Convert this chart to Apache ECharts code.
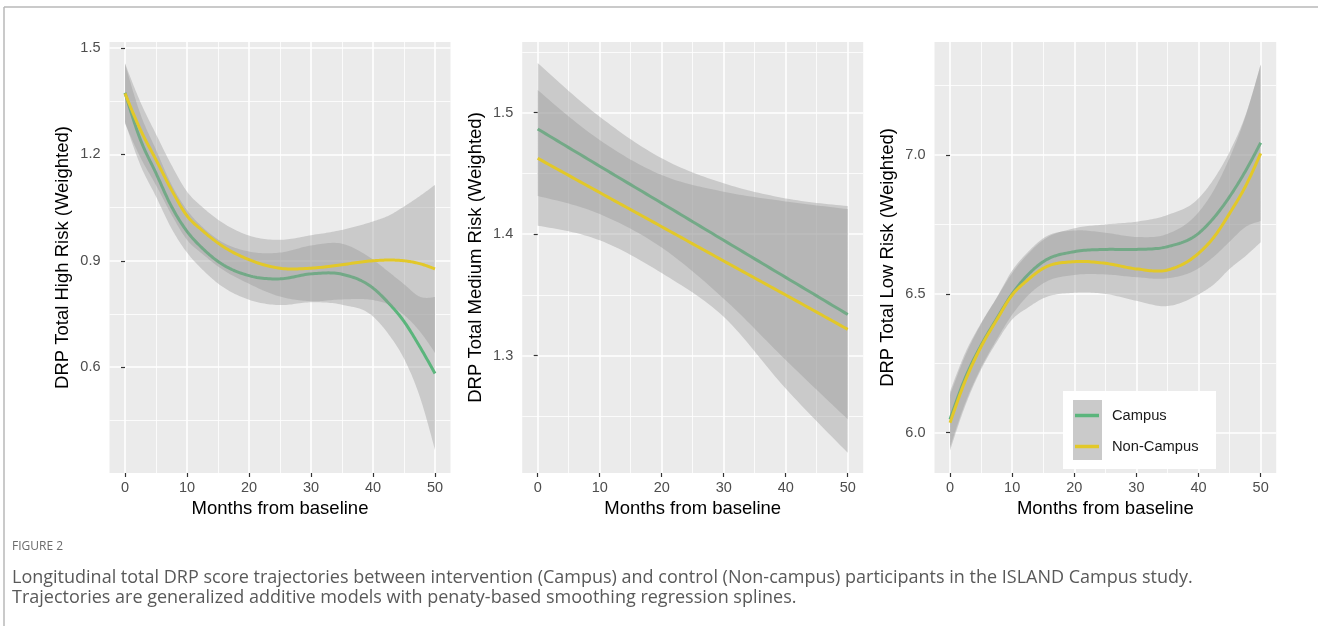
<!DOCTYPE html>
<html><head><meta charset="utf-8">
<script src="https://cdn.jsdelivr.net/npm/echarts@6/dist/echarts.min.js"></script>
<style>html,body{margin:0;padding:0;background:#fff;}#c{width:1318px;height:626px;}</style>
</head><body><div id="c"></div>
<script>
// ---------- data ----------
const seriesNames = ['Campus', 'Non-Campus'];
const xTicks = [0, 10, 20, 30, 40, 50];
const xMinor = [5, 15, 25, 35, 45];

// Panel 1: High risk
const monthsHigh = [0, 2.5, 5, 7.5, 10, 12.5, 15, 20, 25, 30, 35, 40, 42.5, 45, 47.5, 50];
const highCampus    = [1.374, 1.241, 1.147, 1.053, 0.983, 0.935, 0.898, 0.858, 0.849, 0.863, 0.862, 0.823, 0.781, 0.729, 0.659, 0.582];
const highCampusLo  = [1.292, 1.169, 1.081, 0.991, 0.923, 0.875, 0.836, 0.790, 0.775, 0.783, 0.776, 0.743, 0.693, 0.624, 0.519, 0.366];
const highCampusHi  = [1.456, 1.313, 1.213, 1.115, 1.043, 0.995, 0.960, 0.926, 0.923, 0.943, 0.948, 0.903, 0.869, 0.834, 0.799, 0.798];
const highNon       = [1.372, 1.269, 1.185, 1.100, 1.027, 0.985, 0.950, 0.903, 0.879, 0.879, 0.889, 0.900, 0.902, 0.900, 0.892, 0.877];
const highNonLo     = [1.287, 1.191, 1.113, 1.030, 0.959, 0.919, 0.884, 0.835, 0.799, 0.786, 0.791, 0.789, 0.777, 0.747, 0.702, 0.640];
const highNonHi     = [1.457, 1.347, 1.257, 1.170, 1.095, 1.051, 1.016, 0.971, 0.959, 0.972, 0.987, 1.011, 1.027, 1.053, 1.082, 1.114];
const highTicks = [0.6, 0.9, 1.2, 1.5];
const highMinor = [0.45, 0.75, 1.05, 1.35];

// Panel 2: Medium risk
const monthsMed = [0, 10, 20, 30, 40, 50];
const medCampus   = [1.4866, 1.4560, 1.4256, 1.3950, 1.3645, 1.3340];
const medCampusLo = [1.4314, 1.4166, 1.3890, 1.3470, 1.2965, 1.2477];
const medCampusHi = [1.5410, 1.4967, 1.4625, 1.4419, 1.4295, 1.4232];
const medNon      = [1.4625, 1.4343, 1.4062, 1.3780, 1.3500, 1.3217];
const medNonLo    = [1.4070, 1.3950, 1.3680, 1.3320, 1.2730, 1.2202];
const medNonHi    = [1.5187, 1.4775, 1.4487, 1.4350, 1.4270, 1.4207];
const medTicks = [1.3, 1.4, 1.5];
const medMinor = [1.25, 1.35, 1.45, 1.55];

// Panel 3: Low risk
const monthsLow = [0, 2.5, 5, 7.5, 10, 12.5, 15, 20, 25, 30, 35, 40, 42.5, 45, 47.5, 50];
const lowCampus    = [6.048, 6.200, 6.315, 6.410, 6.500, 6.568, 6.616, 6.652, 6.660, 6.660, 6.670, 6.718, 6.775, 6.850, 6.940, 7.044];
const lowCampusLo  = [5.948, 6.110, 6.235, 6.335, 6.425, 6.493, 6.538, 6.568, 6.570, 6.560, 6.556, 6.592, 6.635, 6.688, 6.740, 6.762];
const lowCampusHi  = [6.148, 6.290, 6.395, 6.485, 6.575, 6.643, 6.694, 6.736, 6.750, 6.760, 6.784, 6.844, 6.915, 7.012, 7.140, 7.326];
const lowNon       = [6.036, 6.190, 6.310, 6.406, 6.496, 6.550, 6.592, 6.616, 6.610, 6.590, 6.586, 6.646, 6.705, 6.790, 6.885, 7.006];
const lowNonLo     = [5.936, 6.100, 6.228, 6.326, 6.408, 6.450, 6.484, 6.504, 6.500, 6.475, 6.456, 6.498, 6.535, 6.590, 6.635, 6.686];
const lowNonHi     = [6.136, 6.280, 6.392, 6.486, 6.584, 6.650, 6.700, 6.728, 6.720, 6.705, 6.716, 6.794, 6.875, 6.990, 7.135, 7.326];
const lowTicks = [6.0, 6.5, 7.0];
const lowMinor = [6.25, 6.75, 7.25];

const yTitles = ['DRP Total High Risk (Weighted)', 'DRP Total Medium Risk (Weighted)', 'DRP Total Low Risk (Weighted)'];
const xTitle = 'Months from baseline';
const figLabel = 'FIGURE 2';
const captionLines = [
  'Longitudinal total DRP score trajectories between intervention (Campus) and control (Non-campus) participants in the ISLAND Campus study.',
  'Trajectories are generalized additive models with penaty-based smoothing regression splines.'
];

// ---------- styling / layout ----------
const FF = 'Liberation Sans, Arial, Helvetica, sans-serif';
const CAP_FF = 'Open Sans, Liberation Sans, sans-serif';
const COL_CAMPUS = '#5BB57C';
const COL_NON = '#E2C829';
const RIBBON = 'rgba(153,153,153,0.4)';

const panels = [
  { xs: monthsHigh, c: highCampus, cLo: highCampusLo, cHi: highCampusHi, n: highNon, nLo: highNonLo, nHi: highNonHi,
    ticks: highTicks, minor: highMinor, ymin: 0.3014, ymax: 1.517, left: 109.5, width: 341 },
  { xs: monthsMed, c: medCampus, cLo: medCampusLo, cHi: medCampusHi, n: medNon, nLo: medNonLo, nHi: medNonHi,
    ticks: medTicks, minor: medMinor, ymin: 1.2035, ymax: 1.5582, left: 522.2, width: 341 },
  { xs: monthsLow, c: lowCampus, cLo: lowCampusLo, cHi: lowCampusHi, n: lowNon, nLo: lowNonLo, nHi: lowNonHi,
    ticks: lowTicks, minor: lowMinor, ymin: 5.855, ymax: 7.407, left: 934.5, width: 341.7 }
];

// smooth curve through pixel points (Hermite spline in x), sampled densely
function smoothCurve(P) {
  const n = P.length;
  if (n < 3) return P.slice();
  const h = [], s = [], m = [];
  for (let i = 0; i < n - 1; i++) { h[i] = P[i + 1][0] - P[i][0]; s[i] = (P[i + 1][1] - P[i][1]) / h[i]; }
  for (let i = 1; i < n - 1; i++) m[i] = (s[i - 1] * h[i] + s[i] * h[i - 1]) / (h[i - 1] + h[i]);
  m[0] = (3 * s[0] - m[1]) / 2;
  m[n - 1] = (3 * s[n - 2] - m[n - 2]) / 2;
  const out = [], K = 16;
  for (let i = 0; i < n - 1; i++) {
    for (let k = 0; k < K; k++) {
      const t = k / K, t2 = t * t, t3 = t2 * t;
      const y = (2 * t3 - 3 * t2 + 1) * P[i][1] + (t3 - 2 * t2 + t) * h[i] * m[i]
              + (-2 * t3 + 3 * t2) * P[i + 1][1] + (t3 - t2) * h[i] * m[i + 1];
      out.push([P[i][0] + t * h[i], y]);
    }
  }
  out.push(P[n - 1].slice());
  return out;
}

function renderBand(params, api) {
  if (params.dataIndexInside !== 0) return null;
  const n = params.dataInsideLength;
  const up = [], lo = [];
  for (let i = 0; i < n; i++) {
    const x = api.value(0, i);
    lo.push(api.coord([x, api.value(1, i)]));
    up.push(api.coord([x, api.value(2, i)]));
  }
  const pts = smoothCurve(up).concat(smoothCurve(lo).reverse());
  return { type: 'polygon', silent: true, shape: { points: pts }, style: { fill: RIBBON, stroke: null } };
}
function makeRenderLine(color) {
  return function (params, api) {
    if (params.dataIndexInside !== 0) return null;
    const n = params.dataInsideLength;
    const pts = [];
    for (let i = 0; i < n; i++) pts.push(api.coord([api.value(0, i), api.value(1, i)]));
    return { type: 'polyline', silent: true, shape: { points: smoothCurve(pts) },
      style: { stroke: color, lineWidth: 3, fill: null, lineJoin: 'round', lineCap: 'butt' } };
  };
}

const grids = [], xAxes = [], yAxes = [], series = [];
panels.forEach((p, gi) => {
  grids.push({ left: p.left, top: 42, width: p.width, height: 431, show: true,
    backgroundColor: '#EBEBEB', borderWidth: 0, containLabel: false });
  xAxes.push({ type: 'value', gridIndex: gi, min: -2.5, max: 52.5, position: 'bottom',
    axisLine: { show: false },
    axisTick: { show: true, length: 4, lineStyle: { color: '#333', width: 1.2 }, customValues: xTicks },
    axisLabel: { show: true, customValues: xTicks, margin: 7, color: '#4D4D4D', fontSize: 14.5, fontFamily: FF },
    splitLine: { show: true, lineStyle: { color: '#FFFFFF', width: 1.6 } },
    name: xTitle, nameLocation: 'middle', nameGap: 24,
    nameTextStyle: { color: '#000', fontSize: 18.5, fontFamily: FF } });
  xAxes.push({ type: 'value', gridIndex: gi, min: -2.5, max: 52.5, position: 'top',
    axisLine: { show: false }, axisTick: { show: false, customValues: xMinor },
    axisLabel: { show: false, customValues: xMinor },
    splitLine: { show: true, lineStyle: { color: '#FFFFFF', width: 0.8 } } });
  yAxes.push({ type: 'value', gridIndex: gi, min: p.ymin, max: p.ymax, position: 'left',
    axisLine: { show: false },
    axisTick: { show: true, length: 4, lineStyle: { color: '#333', width: 1.2 }, customValues: p.ticks },
    axisLabel: { show: true, customValues: p.ticks, margin: 9, color: '#4D4D4D', fontSize: 14.5, fontFamily: FF,
      formatter: v => Number(v).toFixed(1) },
    splitLine: { show: true, lineStyle: { color: '#FFFFFF', width: 1.6 } },
    name: yTitles[gi], nameLocation: 'middle', nameGap: 37,
    nameTextStyle: { color: '#000', fontSize: 18.5, fontFamily: FF } });
  yAxes.push({ type: 'value', gridIndex: gi, min: p.ymin, max: p.ymax, position: 'right',
    axisLine: { show: false }, axisTick: { show: false, customValues: p.minor },
    axisLabel: { show: false, customValues: p.minor },
    splitLine: { show: true, lineStyle: { color: '#FFFFFF', width: 0.8 } } });

  const xi = gi * 2, yi = gi * 2;
  const groups = [
    { name: seriesNames[0], fit: p.c, lo: p.cLo, hi: p.cHi, color: COL_CAMPUS },
    { name: seriesNames[1], fit: p.n, lo: p.nLo, hi: p.nHi, color: COL_NON }
  ];
  groups.forEach((g, k) => {
    series.push({ type: 'custom', name: 'band_' + gi + '_' + k, xAxisIndex: xi, yAxisIndex: yi,
      data: p.xs.map((x, i) => [x, g.lo[i], g.hi[i]]), encode: { x: 0, y: [1, 2] },
      renderItem: renderBand, silent: true, clip: true, z: 2 });
    series.push({ type: 'custom', name: g.name, xAxisIndex: xi, yAxisIndex: yi,
      data: p.xs.map((x, i) => [x, g.fit[i]]), encode: { x: 0, y: 1 },
      renderItem: makeRenderLine(g.color), itemStyle: { color: g.color }, silent: true, clip: true, z: 2 });
  });
});

const option = {
  animation: false,
  backgroundColor: '#fff',
  grid: grids, xAxis: xAxes, yAxis: yAxes, series: series,
  legend: {
    data: seriesNames, orient: 'vertical', left: 1075, top: 408, z: 200,
    icon: 'rect', itemWidth: 24, itemHeight: 3.5, itemGap: 16, padding: 0,
    selectedMode: false,
    textStyle: { color: '#1A1A1A', fontSize: 14.7, fontFamily: FF, padding: [0, 0, 0, 8] }
  },
  graphic: [
    { type: 'line', z: 100, shape: { x1: 4, y1: 7, x2: 1318, y2: 7 }, style: { stroke: '#B8B8B8', lineWidth: 1.5 } },
    { type: 'line', z: 100, shape: { x1: 4, y1: 7, x2: 4, y2: 626 }, style: { stroke: '#B8B8B8', lineWidth: 1.5 } },
    { type: 'rect', z: 150, shape: { x: 1063, y: 391, width: 153, height: 78 }, style: { fill: '#FFFFFF' } },
    { type: 'rect', z: 151, shape: { x: 1073, y: 400, width: 29, height: 60 }, style: { fill: '#CACACA' } },
    { type: 'text', z: 100, style: { x: 12, y: 547, text: figLabel, fill: '#6B6B6B', fontSize: 12, fontFamily: CAP_FF, verticalAlign: 'middle' } },
    { type: 'text', z: 100, style: { x: 12, y: 578, text: captionLines[0], fill: '#595959', fontSize: 18, fontFamily: CAP_FF, verticalAlign: 'middle' } },
    { type: 'text', z: 100, style: { x: 12, y: 598, text: captionLines[1], fill: '#595959', fontSize: 18, fontFamily: CAP_FF, verticalAlign: 'middle' } }
  ]
};

const chart = echarts.init(document.getElementById('c'), null, { renderer: 'canvas' });
chart.setOption(option);
</script>
</body></html>
